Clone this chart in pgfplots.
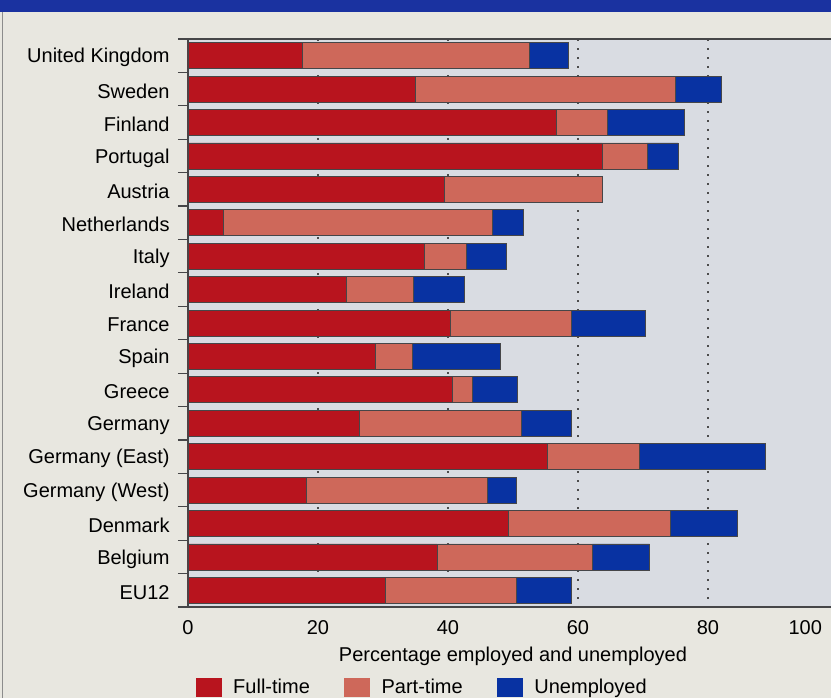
\documentclass[border=0pt]{standalone}
\usepackage{fontspec}
\setmainfont{Liberation Sans}
\usepackage{pgfplots}
\usepackage{pgfplotstable}
\pgfplotsset{compat=1.18}

\definecolor{fulltime}{RGB}{184,20,30}
\definecolor{parttime}{RGB}{206,104,90}
\definecolor{unemployed}{RGB}{8,50,162}
\definecolor{plotbg}{RGB}{217,220,226}
\definecolor{pagebg}{RGB}{232,231,224}
\definecolor{titleband}{RGB}{26,50,160}
\definecolor{frame}{RGB}{70,70,72}

% Share of the population of working age, per cent:
% full-time employed, part-time employed, unemployed (stacked segments)
\pgfplotstableread{
row  full  part  unemp
0    17.6  34.9  6.0
1    35.0  40.0  7.1
2    56.7  7.8   11.8
3    63.7  6.9   4.8
4    39.4  24.4  0
5    5.5   41.3  4.8
6    36.4  6.4   6.2
7    24.4  10.3  7.8
8    40.4  18.5  11.4
9    28.9  5.6   13.6
10   40.6  3.2   6.9
11   26.4  24.9  7.6
12   55.3  14.1  19.4
13   18.2  27.8  4.5
14   49.3  24.9  10.3
15   38.3  23.9  8.8
16   30.4  20.1  8.4
}\employment

\begin{document}
\begin{tikzpicture}
% page and heading band
\fill[pagebg] (-94pt,-45.5pt) rectangle (321.5pt,303.5pt);
\fill[titleband] (-94pt,297.5pt) rectangle (321.5pt,303.5pt);
\draw[black!45, line width=0.5pt] (-92.5pt,-45.5pt) -- (-92.5pt,297.5pt);
\begin{axis}[
  at={(0pt,0pt)}, anchor=south west,
  scale only axis, width=325pt, height=284pt,
  xbar stacked, bar width=13pt,
  xmin=0, xmax=100, ymin=-0.5, ymax=16.5, y dir=reverse,
  axis background/.style={fill=plotbg},
  axis x line*=box, axis y line*=left,
  axis line style={draw=frame, line width=0.6pt},
  xtick={0,20,...,80},
  % the 100 label sits at the trimmed right edge, so it is set flush right
  extra x ticks={100},
  extra x tick labels={100},
  extra x tick style={xticklabel style={anchor=north east, xshift=-4.5pt}},
  ytick={0,...,16},
  yticklabels={United Kingdom,Sweden,Finland,Portugal,Austria,Netherlands,Italy,Ireland,France,Spain,Greece,Germany,Germany (East),Germany (West),Denmark,Belgium,EU12},
  minor ytick={-0.5,0.5,...,16.5},
  tick align=outside,
  major tick length=0pt, minor tick length=5pt,
  minor tick style={draw=frame, line width=0.6pt},
  xmajorgrids,
  major grid style={draw=black!70, line width=0.9pt, dash pattern=on 0.9pt off 3.6pt},
  /pgf/number format/assume math mode=true,
  yticklabel style={xshift=-5.7pt, yshift=-1pt},
  xticklabel style={yshift=-3pt},
  xlabel={Percentage employed and unemployed},
  xlabel style={yshift=0.5pt},
  legend columns=3,
  legend style={at={(0.011,-0.142)}, anchor=west, draw=none, fill=none, inner sep=0pt,
    /tikz/every odd column/.append style={column sep=4pt},
    /tikz/every even column/.append style={column sep=15pt}},
]
\addplot[fill=fulltime, draw=frame, line width=0.35pt,
  legend image code/.code={\fill[fulltime] (0pt,-4.5pt) rectangle (12.5pt,4.5pt);}]
  table[x=full, y=row] {\employment};
\addplot[fill=parttime, draw=frame, line width=0.35pt,
  legend image code/.code={\fill[parttime] (0pt,-4.5pt) rectangle (12.5pt,4.5pt);}]
  table[x=part, y=row] {\employment};
\addplot[fill=unemployed, draw=frame, line width=0.35pt,
  legend image code/.code={\fill[unemployed] (0pt,-4.5pt) rectangle (12.5pt,4.5pt);}]
  table[x=unemp, y=row] {\employment};
\legend{Full-time,Part-time,Unemployed}
\end{axis}
\pgfresetboundingbox
\path[use as bounding box] (-94pt,-45.5pt) rectangle (321.5pt,303.5pt);
\end{tikzpicture}
\end{document}
